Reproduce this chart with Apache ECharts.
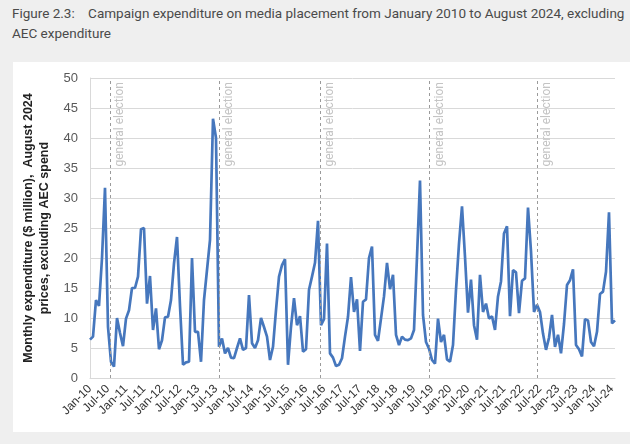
<!DOCTYPE html>
<html>
<head>
<meta charset="utf-8">
<script src="https://cdn.jsdelivr.net/npm/echarts@6/dist/echarts.min.js"></script>
<style>
html,body{margin:0;padding:0;background:#efefef;width:630px;height:444px;overflow:hidden;}
#title{position:absolute;left:12px;top:3px;width:615px;font-family:Roboto,"Noto Sans",sans-serif;font-size:13.5px;line-height:20px;color:#4a4a4a;}
#panel{position:absolute;left:13px;top:62px;width:617px;height:370px;background:#fff;}
#chart{position:absolute;left:0;top:0;width:630px;height:444px;}
</style>
</head>
<body>
<div id="title">Figure 2.3:&nbsp;&nbsp;&nbsp;&nbsp;Campaign expenditure on media placement from January 2010 to August 2024, excluding AEC expenditure</div>
<div id="panel"></div>
<div id="chart"></div>
<script>
// Monthly expenditure ($ million), Jan-2010 .. Aug-2024
const expenditure = [
 6.4, 6.9, 13, 12, 20, 31.7, 8.5, 2.7, 1.9, 10, 7.5, 5.3,
 9.9, 11.3, 15, 15, 16.9, 24.8, 25, 12.4, 17, 8, 11.6, 4.8,
 6.3, 10.1, 10.2, 13, 19.1, 23.5, 12, 2.2, 2.6, 2.7, 20, 7.7,
 7.7, 2.7, 13, 18, 23, 43.2, 40, 5.2, 6.6, 4.1, 5, 3.4,
 3.3, 5, 6.6, 4.7, 5, 13.8, 5.8, 5, 6.3, 10, 8.5, 6.9,
 3, 5.2, 11.3, 16.9, 18.8, 19.8, 2.2, 8.5, 13.3, 8.8, 10.3, 4.4,
 4.8, 14.7, 16.9, 19.2, 26.2, 8.8, 9.8, 22.4, 4.1, 3.4, 2, 2.2,
 3.3, 6.9, 10.2, 16.8, 11, 13.1, 4.5, 12.7, 13.1, 20, 21.9, 7.2,
 6.2, 9.9, 13.6, 19.2, 14.8, 17.2, 7.2, 5.5, 6.9, 6.4, 6.3, 6.6,
 8, 20.2, 32.9, 10.5, 6, 4.9, 3, 2.4, 9.9, 6, 7.2, 3.1,
 2.7, 5.5, 14.7, 22.4, 28.6, 20.2, 10.9, 16.4, 8.8, 6.4, 17.2, 11,
 12.4, 9.9, 10.3, 8, 13.6, 16.1, 24.1, 25.3, 10.3, 18, 17.6, 10.8,
 16.2, 16.6, 28.4, 21.1, 11, 12.2, 11, 7.4, 4.7, 6.7, 10.5, 5.2,
 7.2, 4.1, 9, 15.5, 16.3, 18.1, 5.5, 4.8, 3.6, 9.8, 9.6, 6,
 5.3, 7.7, 14, 14.4, 17.7, 27.6, 9.1, 9.6
];
// Tick labels every 6 months starting Jan-10
const tickLabels = ["Jan-10","Jul-10","Jan-11","Jul-11","Jan-12","Jul-12","Jan-13","Jul-13","Jan-14","Jul-14",
 "Jan-15","Jul-15","Jan-16","Jul-16","Jan-17","Jul-17","Jan-18","Jul-18","Jan-19","Jul-19",
 "Jan-20","Jul-20","Jan-21","Jul-21","Jan-22","Jul-22","Jan-23","Jul-23","Jan-24","Jul-24"];
// Federal general elections, as month offsets from Jan-10
const elections = [6.7, 43.1, 76.7, 113.2, 149.1];
const electionLabel = "general election";

const chart = echarts.init(document.getElementById('chart'), null, {renderer:'canvas'});
const seriesData = expenditure.map((v,i)=>[i,v]);
chart.setOption({
  animation:false,
  backgroundColor:'transparent',
  grid:{left:90, right:15, top:78, bottom:66},
  xAxis:{
    type:'value', min:0, max:expenditure.length-1, interval:6,
    axisLine:{show:true, lineStyle:{color:'#d9d9d9', width:1}},
    axisTick:{show:false},
    splitLine:{show:false},
    axisLabel:{rotate:45, margin:9, fontFamily:'"Liberation Sans", Arial, sans-serif', fontSize:12, color:'#333',
      formatter:(v)=>{const k=Math.round(v/6); return (v%6===0 && tickLabels[k])?tickLabels[k]:'';},
      showMaxLabel:false}
  },
  yAxis:{
    type:'value', min:0, max:50, interval:5,
    axisLine:{show:true, lineStyle:{color:'#d9d9d9'}},
    axisTick:{show:false},
    splitLine:{lineStyle:{color:'#d9d9d9', width:1}},
    axisLabel:{margin:12, fontFamily:'"Liberation Sans", Arial, sans-serif', fontSize:13, color:'#595959'},
    name:'Monthly expenditure ($ million),  August 2024\nprices, excluding AEC spend',
    nameLocation:'middle', nameRotate:90, nameGap:30,
    nameTextStyle:{fontFamily:'"Liberation Sans", Arial, sans-serif', fontSize:12.5, fontWeight:'bold', color:'#222', lineHeight:16, align:'center'}
  },
  series:[{
    type:'line', data:seriesData, showSymbol:false, symbol:'none',
    lineStyle:{color:'#4677bd', width:2.7},
    markLine:{
      silent:true, symbol:['none','none'],
      lineStyle:{color:'#9a9a9a', type:[3,3], width:1},
      label:{show:true, position:'insideEndBottom', formatter:electionLabel, color:'#c4c4c4',
        fontFamily:'Roboto, "Liberation Sans", sans-serif', fontSize:12, distance:4},
      data: elections.map(x=>({xAxis:x}))
    }
  }]
});
</script>
</body>
</html>
